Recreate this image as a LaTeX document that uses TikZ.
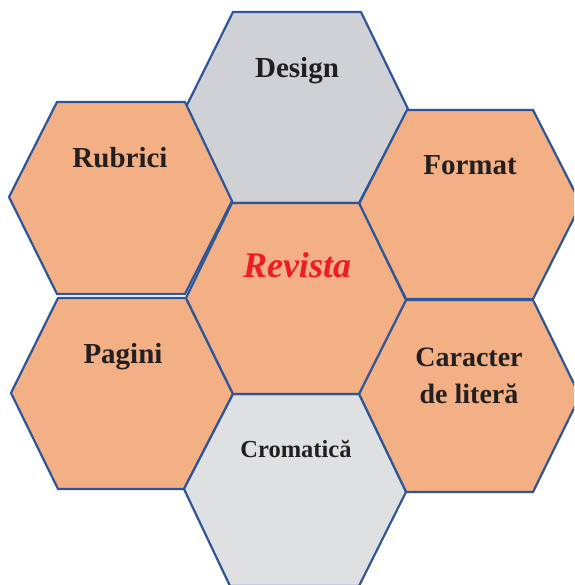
\documentclass[tikz,border=0pt]{standalone}
\usepackage{fontspec}
\setmainfont{Liberation Serif}
\definecolor{hexline}{HTML}{2E5597}
\definecolor{hexorange}{HTML}{F2B084}
\definecolor{hexgray}{HTML}{D0D1D4}
\definecolor{hexlight}{HTML}{DFE0E2}
\definecolor{txtblack}{HTML}{231F20}
\definecolor{txtred}{HTML}{ED1C24}
\tikzset{
  hexcell/.style={draw=hexline, line width=2.2pt, line join=miter},
  lbl/.style={anchor=base, font=\fontsize{29}{34}\selectfont\bfseries, text=txtblack, inner sep=0pt, align=center},
}
\begin{document}
\begin{tikzpicture}[x=1pt,y=-1pt]
\useasboundingbox (0,0) rectangle (574,585);
\clip (0,0) rectangle (574,585);
% Design
\draw[hexcell, fill=hexgray] (186,107) -- (233,12) -- (361,12) -- (408,109) -- (359,203) -- (232,203) -- cycle;
% Rubrici
\draw[hexcell, fill=hexorange] (9,197) -- (57,102) -- (185,102) -- (232,201) -- (185,294) -- (57,294) -- cycle;
% Pagini
\draw[hexcell, fill=hexorange] (11,393) -- (58,298) -- (186,298) -- (233,394) -- (184,489) -- (58,489) -- cycle;
% Format
\draw[hexcell, fill=hexorange] (359,204) -- (407,110) -- (533,110) -- (581,204) -- (533,299) -- (406,299) -- cycle;
% Caracter de litera
\draw[hexcell, fill=hexorange] (359,394) -- (406,300) -- (533,300) -- (580,396) -- (533,492) -- (406,492) -- cycle;
% Cromatica
\draw[hexcell, fill=hexlight] (184,489) -- (233,394) -- (359,394) -- (406,492) -- (359,586) -- (230,586) -- cycle;
% Center
\draw[hexcell, fill=hexorange] (186,298) -- (232,203) -- (359,203) -- (406,300) -- (359,394) -- (233,394) -- cycle;
% labels
\node[lbl] (design) at (297,78) {Design};
\node[lbl] (rubrici) at (120,168) {Rubrici};
\node[lbl] (format) at (470,175) {Format};
\node[lbl] (pagini) at (123,363) {Pagini};
\node[lbl, font=\fontsize{28}{37}\selectfont\bfseries] (caracter) at (469,403) {Caracter\\de literă};
\node[lbl, font=\fontsize{24.5}{30}\selectfont\bfseries] (cromatica) at (296,457) {Cromatică};
\node[lbl, font=\fontsize{36}{42}\selectfont\bfseries\itshape, text=txtred] (revista) at (297,277) {Revista};
\end{tikzpicture}
\end{document}
